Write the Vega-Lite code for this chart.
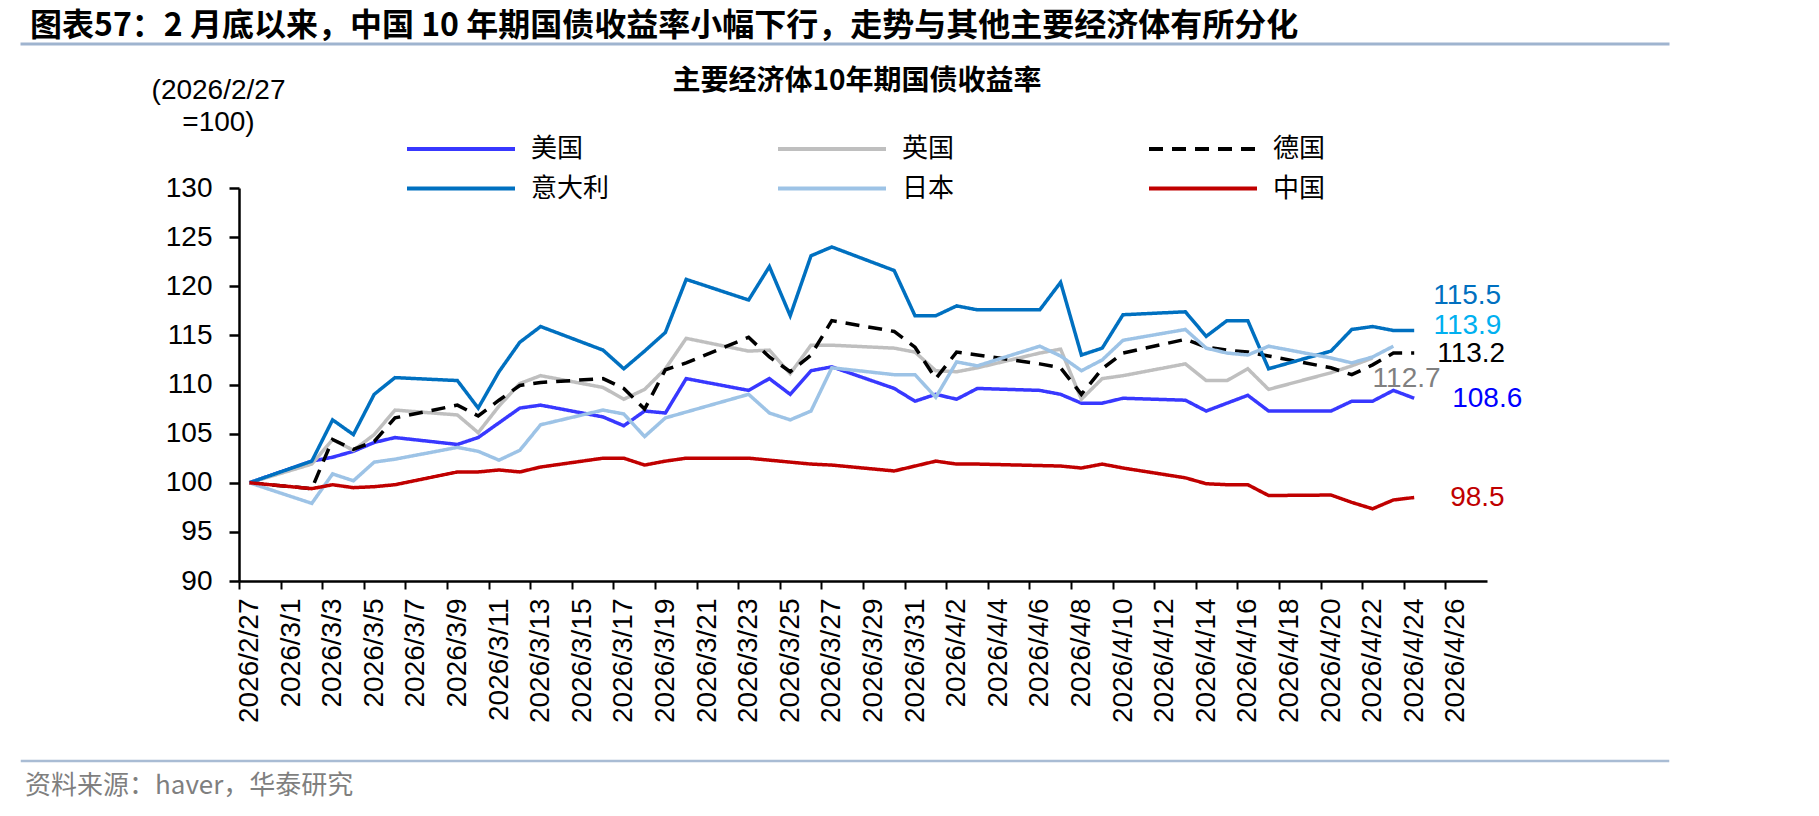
{
  "$schema": "https://vega.github.io/schema/vega-lite/v6.json",
  "background": "white",
  "padding": {"left": 20, "top": 8, "right": 20, "bottom": 4},
  "autosize": {"type": "pad"},
  "config": {
    "view": {"stroke": null},
    "font": "Liberation Sans",
    "axis": {"grid": false}
  },
  "columns": 1,
  "spacing": 143,
  "bounds": "flush",
  "align": "none",
  "datasets": {
    "yields": [
      {"country": "美国", "date": "2026/2/27", "value": 100},
      {"country": "美国", "date": "2026/3/2", "value": 102.2},
      {"country": "美国", "date": "2026/3/3", "value": 102.6},
      {"country": "美国", "date": "2026/3/4", "value": 103.2},
      {"country": "美国", "date": "2026/3/5", "value": 104.1},
      {"country": "美国", "date": "2026/3/6", "value": 104.6},
      {"country": "美国", "date": "2026/3/9", "value": 103.9},
      {"country": "美国", "date": "2026/3/10", "value": 104.6},
      {"country": "美国", "date": "2026/3/11", "value": 106.1},
      {"country": "美国", "date": "2026/3/12", "value": 107.6},
      {"country": "美国", "date": "2026/3/13", "value": 107.9},
      {"country": "美国", "date": "2026/3/16", "value": 106.7},
      {"country": "美国", "date": "2026/3/17", "value": 105.8},
      {"country": "美国", "date": "2026/3/18", "value": 107.3},
      {"country": "美国", "date": "2026/3/19", "value": 107.1},
      {"country": "美国", "date": "2026/3/20", "value": 110.6},
      {"country": "美国", "date": "2026/3/23", "value": 109.4},
      {"country": "美国", "date": "2026/3/24", "value": 110.6},
      {"country": "美国", "date": "2026/3/25", "value": 109.0},
      {"country": "美国", "date": "2026/3/26", "value": 111.4},
      {"country": "美国", "date": "2026/3/27", "value": 111.8},
      {"country": "美国", "date": "2026/3/30", "value": 109.6},
      {"country": "美国", "date": "2026/3/31", "value": 108.3},
      {"country": "美国", "date": "2026/4/1", "value": 109.0},
      {"country": "美国", "date": "2026/4/2", "value": 108.5},
      {"country": "美国", "date": "2026/4/3", "value": 109.6},
      {"country": "美国", "date": "2026/4/6", "value": 109.4},
      {"country": "美国", "date": "2026/4/7", "value": 109.0},
      {"country": "美国", "date": "2026/4/8", "value": 108.1},
      {"country": "美国", "date": "2026/4/9", "value": 108.1},
      {"country": "美国", "date": "2026/4/10", "value": 108.6},
      {"country": "美国", "date": "2026/4/13", "value": 108.4},
      {"country": "美国", "date": "2026/4/14", "value": 107.3},
      {"country": "美国", "date": "2026/4/15", "value": 108.1},
      {"country": "美国", "date": "2026/4/16", "value": 108.9},
      {"country": "美国", "date": "2026/4/17", "value": 107.3},
      {"country": "美国", "date": "2026/4/20", "value": 107.3},
      {"country": "美国", "date": "2026/4/21", "value": 108.3},
      {"country": "美国", "date": "2026/4/22", "value": 108.3},
      {"country": "美国", "date": "2026/4/23", "value": 109.4},
      {"country": "美国", "date": "2026/4/24", "value": 108.6},

      {"country": "英国", "date": "2026/2/27", "value": 100},
      {"country": "英国", "date": "2026/3/2", "value": 101.9},
      {"country": "英国", "date": "2026/3/3", "value": 104.4},
      {"country": "英国", "date": "2026/3/4", "value": 103.3},
      {"country": "英国", "date": "2026/3/5", "value": 104.9},
      {"country": "英国", "date": "2026/3/6", "value": 107.4},
      {"country": "英国", "date": "2026/3/9", "value": 106.9},
      {"country": "英国", "date": "2026/3/10", "value": 105.1},
      {"country": "英国", "date": "2026/3/11", "value": 107.8},
      {"country": "英国", "date": "2026/3/12", "value": 110.1},
      {"country": "英国", "date": "2026/3/13", "value": 110.9},
      {"country": "英国", "date": "2026/3/16", "value": 109.7},
      {"country": "英国", "date": "2026/3/17", "value": 108.5},
      {"country": "英国", "date": "2026/3/18", "value": 109.5},
      {"country": "英国", "date": "2026/3/19", "value": 111.6},
      {"country": "英国", "date": "2026/3/20", "value": 114.7},
      {"country": "英国", "date": "2026/3/23", "value": 113.4},
      {"country": "英国", "date": "2026/3/24", "value": 113.5},
      {"country": "英国", "date": "2026/3/25", "value": 111.1},
      {"country": "英国", "date": "2026/3/26", "value": 114.0},
      {"country": "英国", "date": "2026/3/27", "value": 114.0},
      {"country": "英国", "date": "2026/3/30", "value": 113.7},
      {"country": "英国", "date": "2026/3/31", "value": 113.3},
      {"country": "英国", "date": "2026/4/1", "value": 111.4},
      {"country": "英国", "date": "2026/4/2", "value": 111.3},
      {"country": "英国", "date": "2026/4/3", "value": 111.7},
      {"country": "英国", "date": "2026/4/6", "value": 113.2},
      {"country": "英国", "date": "2026/4/7", "value": 113.6},
      {"country": "英国", "date": "2026/4/8", "value": 108.5},
      {"country": "英国", "date": "2026/4/9", "value": 110.6},
      {"country": "英国", "date": "2026/4/10", "value": 110.9},
      {"country": "英国", "date": "2026/4/13", "value": 112.1},
      {"country": "英国", "date": "2026/4/14", "value": 110.4},
      {"country": "英国", "date": "2026/4/15", "value": 110.4},
      {"country": "英国", "date": "2026/4/16", "value": 111.6},
      {"country": "英国", "date": "2026/4/17", "value": 109.5},
      {"country": "英国", "date": "2026/4/20", "value": 111.2},
      {"country": "英国", "date": "2026/4/21", "value": 111.9},
      {"country": "英国", "date": "2026/4/22", "value": 112.7},

      {"country": "德国", "date": "2026/2/27", "value": 100},
      {"country": "德国", "date": "2026/3/2", "value": 99.4},
      {"country": "德国", "date": "2026/3/3", "value": 104.4},
      {"country": "德国", "date": "2026/3/4", "value": 103.4},
      {"country": "德国", "date": "2026/3/5", "value": 104.2},
      {"country": "德国", "date": "2026/3/6", "value": 106.6},
      {"country": "德国", "date": "2026/3/9", "value": 107.9},
      {"country": "德国", "date": "2026/3/10", "value": 106.8},
      {"country": "德国", "date": "2026/3/11", "value": 108.4},
      {"country": "德国", "date": "2026/3/12", "value": 109.9},
      {"country": "德国", "date": "2026/3/13", "value": 110.2},
      {"country": "德国", "date": "2026/3/16", "value": 110.6},
      {"country": "德国", "date": "2026/3/17", "value": 109.6},
      {"country": "德国", "date": "2026/3/18", "value": 107.5},
      {"country": "德国", "date": "2026/3/19", "value": 111.5},
      {"country": "德国", "date": "2026/3/20", "value": 112.2},
      {"country": "德国", "date": "2026/3/23", "value": 114.8},
      {"country": "德国", "date": "2026/3/24", "value": 112.8},
      {"country": "德国", "date": "2026/3/25", "value": 111.3},
      {"country": "德国", "date": "2026/3/26", "value": 113.0},
      {"country": "德国", "date": "2026/3/27", "value": 116.5},
      {"country": "德国", "date": "2026/3/30", "value": 115.4},
      {"country": "德国", "date": "2026/3/31", "value": 113.8},
      {"country": "德国", "date": "2026/4/1", "value": 110.6},
      {"country": "德国", "date": "2026/4/2", "value": 113.3},
      {"country": "德国", "date": "2026/4/3", "value": 113.0},
      {"country": "德国", "date": "2026/4/6", "value": 112.1},
      {"country": "德国", "date": "2026/4/7", "value": 111.7},
      {"country": "德国", "date": "2026/4/8", "value": 109.0},
      {"country": "德国", "date": "2026/4/9", "value": 111.6},
      {"country": "德国", "date": "2026/4/10", "value": 113.2},
      {"country": "德国", "date": "2026/4/13", "value": 114.6},
      {"country": "德国", "date": "2026/4/14", "value": 113.8},
      {"country": "德国", "date": "2026/4/15", "value": 113.5},
      {"country": "德国", "date": "2026/4/16", "value": 113.3},
      {"country": "德国", "date": "2026/4/17", "value": 112.9},
      {"country": "德国", "date": "2026/4/20", "value": 111.7},
      {"country": "德国", "date": "2026/4/21", "value": 111.0},
      {"country": "德国", "date": "2026/4/22", "value": 112.0},
      {"country": "德国", "date": "2026/4/23", "value": 113.2},
      {"country": "德国", "date": "2026/4/24", "value": 113.2},

      {"country": "意大利", "date": "2026/2/27", "value": 100},
      {"country": "意大利", "date": "2026/3/2", "value": 102.2},
      {"country": "意大利", "date": "2026/3/3", "value": 106.4},
      {"country": "意大利", "date": "2026/3/4", "value": 104.9},
      {"country": "意大利", "date": "2026/3/5", "value": 109.0},
      {"country": "意大利", "date": "2026/3/6", "value": 110.7},
      {"country": "意大利", "date": "2026/3/9", "value": 110.4},
      {"country": "意大利", "date": "2026/3/10", "value": 107.6},
      {"country": "意大利", "date": "2026/3/11", "value": 111.3},
      {"country": "意大利", "date": "2026/3/12", "value": 114.3},
      {"country": "意大利", "date": "2026/3/13", "value": 115.9},
      {"country": "意大利", "date": "2026/3/16", "value": 113.5},
      {"country": "意大利", "date": "2026/3/17", "value": 111.6},
      {"country": "意大利", "date": "2026/3/18", "value": 113.4},
      {"country": "意大利", "date": "2026/3/19", "value": 115.3},
      {"country": "意大利", "date": "2026/3/20", "value": 120.7},
      {"country": "意大利", "date": "2026/3/23", "value": 118.6},
      {"country": "意大利", "date": "2026/3/24", "value": 122.0},
      {"country": "意大利", "date": "2026/3/25", "value": 117.0},
      {"country": "意大利", "date": "2026/3/26", "value": 123.1},
      {"country": "意大利", "date": "2026/3/27", "value": 124.0},
      {"country": "意大利", "date": "2026/3/30", "value": 121.6},
      {"country": "意大利", "date": "2026/3/31", "value": 117.0},
      {"country": "意大利", "date": "2026/4/1", "value": 117.0},
      {"country": "意大利", "date": "2026/4/2", "value": 118.0},
      {"country": "意大利", "date": "2026/4/3", "value": 117.6},
      {"country": "意大利", "date": "2026/4/6", "value": 117.6},
      {"country": "意大利", "date": "2026/4/7", "value": 120.4},
      {"country": "意大利", "date": "2026/4/8", "value": 113.0},
      {"country": "意大利", "date": "2026/4/9", "value": 113.7},
      {"country": "意大利", "date": "2026/4/10", "value": 117.1},
      {"country": "意大利", "date": "2026/4/13", "value": 117.4},
      {"country": "意大利", "date": "2026/4/14", "value": 114.9},
      {"country": "意大利", "date": "2026/4/15", "value": 116.5},
      {"country": "意大利", "date": "2026/4/16", "value": 116.5},
      {"country": "意大利", "date": "2026/4/17", "value": 111.6},
      {"country": "意大利", "date": "2026/4/20", "value": 113.4},
      {"country": "意大利", "date": "2026/4/21", "value": 115.6},
      {"country": "意大利", "date": "2026/4/22", "value": 115.9},
      {"country": "意大利", "date": "2026/4/23", "value": 115.5},
      {"country": "意大利", "date": "2026/4/24", "value": 115.5},

      {"country": "日本", "date": "2026/2/27", "value": 100},
      {"country": "日本", "date": "2026/3/2", "value": 97.9},
      {"country": "日本", "date": "2026/3/3", "value": 100.9},
      {"country": "日本", "date": "2026/3/4", "value": 100.2},
      {"country": "日本", "date": "2026/3/5", "value": 102.1},
      {"country": "日本", "date": "2026/3/6", "value": 102.4},
      {"country": "日本", "date": "2026/3/9", "value": 103.6},
      {"country": "日本", "date": "2026/3/10", "value": 103.2},
      {"country": "日本", "date": "2026/3/11", "value": 102.3},
      {"country": "日本", "date": "2026/3/12", "value": 103.3},
      {"country": "日本", "date": "2026/3/13", "value": 105.9},
      {"country": "日本", "date": "2026/3/16", "value": 107.4},
      {"country": "日本", "date": "2026/3/17", "value": 107.0},
      {"country": "日本", "date": "2026/3/18", "value": 104.7},
      {"country": "日本", "date": "2026/3/19", "value": 106.6},
      {"country": "日本", "date": "2026/3/23", "value": 109.0},
      {"country": "日本", "date": "2026/3/24", "value": 107.1},
      {"country": "日本", "date": "2026/3/25", "value": 106.4},
      {"country": "日本", "date": "2026/3/26", "value": 107.3},
      {"country": "日本", "date": "2026/3/27", "value": 111.7},
      {"country": "日本", "date": "2026/3/30", "value": 111.0},
      {"country": "日本", "date": "2026/3/31", "value": 111.0},
      {"country": "日本", "date": "2026/4/1", "value": 108.7},
      {"country": "日本", "date": "2026/4/2", "value": 112.3},
      {"country": "日本", "date": "2026/4/3", "value": 111.9},
      {"country": "日本", "date": "2026/4/6", "value": 113.9},
      {"country": "日本", "date": "2026/4/7", "value": 112.9},
      {"country": "日本", "date": "2026/4/8", "value": 111.4},
      {"country": "日本", "date": "2026/4/9", "value": 112.5},
      {"country": "日本", "date": "2026/4/10", "value": 114.5},
      {"country": "日本", "date": "2026/4/13", "value": 115.6},
      {"country": "日本", "date": "2026/4/14", "value": 113.7},
      {"country": "日本", "date": "2026/4/15", "value": 113.2},
      {"country": "日本", "date": "2026/4/16", "value": 113.0},
      {"country": "日本", "date": "2026/4/17", "value": 113.9},
      {"country": "日本", "date": "2026/4/20", "value": 112.7},
      {"country": "日本", "date": "2026/4/21", "value": 112.2},
      {"country": "日本", "date": "2026/4/22", "value": 112.8},
      {"country": "日本", "date": "2026/4/23", "value": 113.9},

      {"country": "中国", "date": "2026/2/27", "value": 100},
      {"country": "中国", "date": "2026/3/2", "value": 99.4},
      {"country": "中国", "date": "2026/3/3", "value": 99.8},
      {"country": "中国", "date": "2026/3/4", "value": 99.5},
      {"country": "中国", "date": "2026/3/5", "value": 99.6},
      {"country": "中国", "date": "2026/3/6", "value": 99.8},
      {"country": "中国", "date": "2026/3/9", "value": 101.1},
      {"country": "中国", "date": "2026/3/10", "value": 101.1},
      {"country": "中国", "date": "2026/3/11", "value": 101.3},
      {"country": "中国", "date": "2026/3/12", "value": 101.1},
      {"country": "中国", "date": "2026/3/13", "value": 101.6},
      {"country": "中国", "date": "2026/3/16", "value": 102.5},
      {"country": "中国", "date": "2026/3/17", "value": 102.5},
      {"country": "中国", "date": "2026/3/18", "value": 101.8},
      {"country": "中国", "date": "2026/3/19", "value": 102.2},
      {"country": "中国", "date": "2026/3/20", "value": 102.5},
      {"country": "中国", "date": "2026/3/23", "value": 102.5},
      {"country": "中国", "date": "2026/3/24", "value": 102.3},
      {"country": "中国", "date": "2026/3/25", "value": 102.1},
      {"country": "中国", "date": "2026/3/26", "value": 101.9},
      {"country": "中国", "date": "2026/3/27", "value": 101.8},
      {"country": "中国", "date": "2026/3/30", "value": 101.2},
      {"country": "中国", "date": "2026/3/31", "value": 101.7},
      {"country": "中国", "date": "2026/4/1", "value": 102.2},
      {"country": "中国", "date": "2026/4/2", "value": 101.9},
      {"country": "中国", "date": "2026/4/3", "value": 101.9},
      {"country": "中国", "date": "2026/4/7", "value": 101.7},
      {"country": "中国", "date": "2026/4/8", "value": 101.5},
      {"country": "中国", "date": "2026/4/9", "value": 101.9},
      {"country": "中国", "date": "2026/4/10", "value": 101.5},
      {"country": "中国", "date": "2026/4/13", "value": 100.5},
      {"country": "中国", "date": "2026/4/14", "value": 99.9},
      {"country": "中国", "date": "2026/4/15", "value": 99.8},
      {"country": "中国", "date": "2026/4/16", "value": 99.8},
      {"country": "中国", "date": "2026/4/17", "value": 98.7},
      {"country": "中国", "date": "2026/4/20", "value": 98.75},
      {"country": "中国", "date": "2026/4/21", "value": 98.0},
      {"country": "中国", "date": "2026/4/22", "value": 97.35},
      {"country": "中国", "date": "2026/4/23", "value": 98.25},
      {"country": "中国", "date": "2026/4/24", "value": 98.5}
    ]
  },
  "concat": [
    {
      "width": 1646,
      "height": 0.01,
      "view": {"stroke": "#9fb4cf", "strokeWidth": 3},
      "title": {
        "text": "图表57：2 月底以来，中国 10 年期国债收益率小幅下行，走势与其他主要经济体有所分化",
        "anchor": "start",
        "frame": "group",
        "font": "Noto Sans CJK SC",
        "fontSize": 32,
        "fontWeight": "bold",
        "color": "#000000",
        "offset": 1.5,
        "dx": 8
      },
      "data": {"values": []},
      "mark": "rule",
      "encoding": {}
    },
    {
      "width": 1646,
      "height": 430,
      "data": {"name": "yields"},
      "title": {
        "text": "主要经济体10年期国债收益率",
        "anchor": "middle",
        "frame": "group",
        "font": "Noto Sans CJK SC",
        "fontSize": 28,
        "fontWeight": "bold",
        "color": "#000000",
        "dx": 12,
        "offset": -19.5
      },
      "encoding": {
        "x": {
          "field": "date",
          "type": "temporal",
          "scale": {
            "domain": [
              {"year": 2026, "month": 2, "date": 26, "hours": 12},
              {"year": 2026, "month": 4, "date": 27, "hours": 12}
            ],
            "range": [217, 1465]
          },
          "axis": {
            "orient": "bottom",
            "offset": -37,
            "title": null,
            "values": [
              {"year": 2026, "month": 2, "date": 27},
              {"year": 2026, "month": 3, "date": 1},
              {"year": 2026, "month": 3, "date": 3},
              {"year": 2026, "month": 3, "date": 5},
              {"year": 2026, "month": 3, "date": 7},
              {"year": 2026, "month": 3, "date": 9},
              {"year": 2026, "month": 3, "date": 11},
              {"year": 2026, "month": 3, "date": 13},
              {"year": 2026, "month": 3, "date": 15},
              {"year": 2026, "month": 3, "date": 17},
              {"year": 2026, "month": 3, "date": 19},
              {"year": 2026, "month": 3, "date": 21},
              {"year": 2026, "month": 3, "date": 23},
              {"year": 2026, "month": 3, "date": 25},
              {"year": 2026, "month": 3, "date": 27},
              {"year": 2026, "month": 3, "date": 29},
              {"year": 2026, "month": 3, "date": 31},
              {"year": 2026, "month": 4, "date": 2},
              {"year": 2026, "month": 4, "date": 4},
              {"year": 2026, "month": 4, "date": 6},
              {"year": 2026, "month": 4, "date": 8},
              {"year": 2026, "month": 4, "date": 10},
              {"year": 2026, "month": 4, "date": 12},
              {"year": 2026, "month": 4, "date": 14},
              {"year": 2026, "month": 4, "date": 16},
              {"year": 2026, "month": 4, "date": 18},
              {"year": 2026, "month": 4, "date": 20},
              {"year": 2026, "month": 4, "date": 22},
              {"year": 2026, "month": 4, "date": 24},
              {"year": 2026, "month": 4, "date": 26},
              {"year": 2026, "month": 4, "date": 28}
            ],
            "labelExpr": "month(datum.value) == 3 && date(datum.value) == 28 ? '' : timeFormat(datum.value, '%Y/%-m/%-d')",
            "labelAngle": 270,
            "labelFont": "Liberation Sans",
            "labelFontSize": 28,
            "labelColor": "#000000",
            "labelPadding": 9,
            "labelOverlap": false,
            "labelFlush": false,
            "labelBound": false,
            "tickSize": 8,
            "tickWidth": 2,
            "tickColor": "#000000",
            "tickOffset": -10.4,
            "labelOffset": 10.4,
            "domainColor": "#000000",
            "domainWidth": 2.5
          }
        },
        "y": {
          "field": "value",
          "type": "quantitative",
          "scale": {"domain": [90, 130], "range": [393, 0], "nice": false, "zero": false},
          "axis": {
            "orient": "left",
            "offset": -217,
            "values": [90, 95, 100, 105, 110, 115, 120, 125, 130],
            "labelFont": "Liberation Sans",
            "labelFontSize": 28,
            "labelColor": "#000000",
            "labelPadding": 17,
            "tickSize": 10,
            "tickWidth": 2.5,
            "tickColor": "#000000",
            "domainColor": "#000000",
            "domainWidth": 2.5,
            "title": ["(2026/2/27", "=100)"],
            "titleAngle": 0,
            "titleAlign": "center",
            "titleBaseline": "top",
            "titleX": -21,
            "titleY": -112,
            "titleFont": "Liberation Sans",
            "titleFontSize": 28,
            "titleFontWeight": "normal",
            "titleLineHeight": 32,
            "titleColor": "#000000"
          }
        }
      },
      "layer": [
        {
          "mark": {"type": "line", "strokeWidth": 3.5},
          "encoding": {
            "color": {
              "field": "country",
              "type": "nominal",
              "scale": {
                "domain": ["美国", "英国", "德国", "意大利", "日本", "中国"],
                "range": ["#3838ff", "#bfbfbf", "#000000", "#0070c0", "#9dc3e6", "#c00000"]
              },
              "legend": {
                "orient": "none",
                "legendX": 383,
                "legendY": 90,
                "columns": 3,
                "direction": "horizontal",
                "title": null,
                "padding": 0,
                "symbolType": "stroke",
                "symbolSize": 11664,
                "symbolStrokeWidth": 4,
                "clipHeight": 30,
                "gridAlign": "all",
                "columnPadding": 166,
                "rowPadding": 9.5,
                "labelFont": "Noto Sans CJK SC",
                "labelFontSize": 26,
                "labelColor": "#000000",
                "labelOffset": 14,
                "labelLimit": 0
              }
            },
            "strokeDash": {
              "field": "country",
              "type": "nominal",
              "scale": {
                "domain": ["美国", "英国", "德国", "意大利", "日本", "中国"],
                "range": [[1, 0], [1, 0], [14, 9], [1, 0], [1, 0], [1, 0]]
              }
            }
          }
        },
        {
          "transform": [{"filter": {"and": [{"field": "country", "equal": "意大利"}, {"field": "date", "equal": {"year": 2026, "month": 4, "date": 24}}]}}],
          "mark": {"type": "text", "align": "left", "baseline": "middle", "font": "Liberation Sans", "fontSize": 28, "color": "#0070c0", "dx": 19, "dy": -34},
          "encoding": {"text": {"field": "value", "type": "quantitative", "format": ".1f"}}
        },
        {
          "transform": [{"filter": {"and": [{"field": "country", "equal": "日本"}, {"field": "date", "equal": {"year": 2026, "month": 4, "date": 23}}]}}],
          "mark": {"type": "text", "align": "left", "baseline": "middle", "font": "Liberation Sans", "fontSize": 28, "color": "#00b0f0", "dx": 40, "dy": -20.5},
          "encoding": {"text": {"field": "value", "type": "quantitative", "format": ".1f"}}
        },
        {
          "transform": [{"filter": {"and": [{"field": "country", "equal": "德国"}, {"field": "date", "equal": {"year": 2026, "month": 4, "date": 24}}]}}],
          "mark": {"type": "text", "align": "left", "baseline": "middle", "font": "Liberation Sans", "fontSize": 28, "color": "#000000", "dx": 23, "dy": 0.5},
          "encoding": {"text": {"field": "value", "type": "quantitative", "format": ".1f"}}
        },
        {
          "transform": [{"filter": {"and": [{"field": "country", "equal": "英国"}, {"field": "date", "equal": {"year": 2026, "month": 4, "date": 22}}]}}],
          "mark": {"type": "text", "align": "left", "baseline": "middle", "font": "Liberation Sans", "fontSize": 28, "color": "#808080", "dx": 0, "dy": 21},
          "encoding": {"text": {"field": "value", "type": "quantitative", "format": ".1f"}}
        },
        {
          "transform": [{"filter": {"and": [{"field": "country", "equal": "美国"}, {"field": "date", "equal": {"year": 2026, "month": 4, "date": 24}}]}}],
          "mark": {"type": "text", "align": "left", "baseline": "middle", "font": "Liberation Sans", "fontSize": 28, "color": "#0000ff", "dx": 38, "dy": 1},
          "encoding": {"text": {"field": "value", "type": "quantitative", "format": ".1f"}}
        },
        {
          "transform": [{"filter": {"and": [{"field": "country", "equal": "中国"}, {"field": "date", "equal": {"year": 2026, "month": 4, "date": 24}}]}}],
          "mark": {"type": "text", "align": "left", "baseline": "middle", "font": "Liberation Sans", "fontSize": 28, "color": "#c00000", "dx": 36, "dy": 1},
          "encoding": {"text": {"field": "value", "type": "quantitative", "format": ".1f"}}
        }
      ]
    },
    {
      "width": 1646,
      "height": 0.01,
      "view": {"stroke": "#a9bcd4", "strokeWidth": 2.5},
      "title": {
        "text": "资料来源：haver，华泰研究",
        "orient": "bottom",
        "anchor": "start",
        "frame": "group",
        "font": "Noto Sans CJK SC",
        "fontSize": 26,
        "fontWeight": "normal",
        "color": "#7f7f7f",
        "offset": 12,
        "dx": 3
      },
      "data": {"values": []},
      "mark": "rule",
      "encoding": {}
    }
  ]
}
